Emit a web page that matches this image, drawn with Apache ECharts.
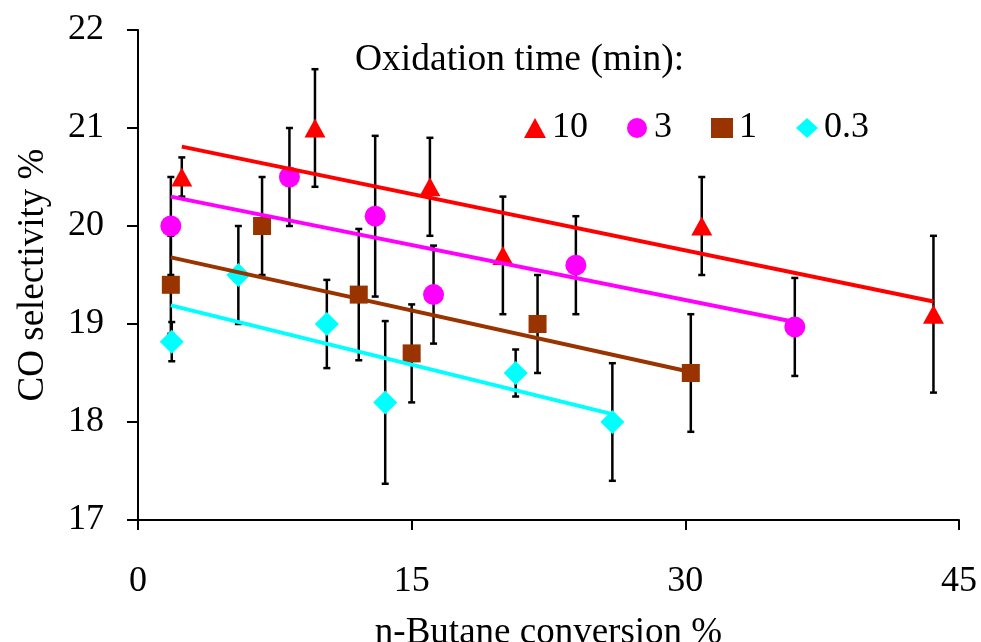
<!DOCTYPE html>
<html>
<head>
    <meta charset="utf-8">
    <title>CO selectivity</title>
    <script src="https://cdn.jsdelivr.net/npm/echarts@6/dist/echarts.min.js"></script>
    <style type="text/css">
        *{margin: 0;padding: 0;}
        body{background: #fff;}
    </style>
</head>
<body>
<div id="main" style="width: 981px;height: 642px;"></div>
<script type="text/javascript">
    // oxidation time 10 min
    var t10X = [2.4, 9.7, 16.0, 20.0, 30.9, 43.6];
    var t10Y = [20.5, 21.0, 20.4, 19.7, 20.0, 19.1];
    var t10Err = [0.2, 0.6, 0.5, 0.6, 0.5, 0.8];
    // 3 min
    var t3X = [1.8, 8.3, 13.0, 16.2, 24.0, 36.0];
    var t3Y = [20.0, 20.5, 20.1, 19.3, 19.6, 18.97];
    var t3Err = [0.5, 0.5, 0.82, 0.5, 0.5, 0.5];
    // 1 min
    var t1X = [1.8, 6.8, 12.1, 15.0, 21.9, 30.3];
    var t1Y = [19.4, 20.0, 19.3, 18.7, 19.0, 18.5];
    var t1Err = [0.5, 0.5, 0.67, 0.5, 0.5, 0.6];
    // 0.3 min
    var t03X = [1.85, 5.5, 10.35, 13.55, 20.7, 26.0];
    var t03Y = [18.82, 19.5, 19.0, 18.2, 18.5, 18.0];
    var t03Err = [0.2, 0.5, 0.45, 0.83, 0.24, 0.6];

    // trend lines (end points)
    var trend10 = [[2.4, 20.81], [43.6, 19.23]];
    var trend3 = [[1.8, 20.30], [36.0, 19.02]];
    var trend1 = [[1.8, 19.68], [30.3, 18.51]];
    var trend03 = [[1.8, 19.19], [26.0, 18.08]];

    var xTicks = [0, 15, 30, 45];
    var yTicks = [17, 18, 19, 20, 21, 22];
    var legendNames = ['10', '3', '1', '0.3'];

    var FONT = 'Liberation Serif';
    var myChart = echarts.init(document.getElementById('main'));

    function pts(xs, ys) {
        return xs.map(function (x, i) { return [x, ys[i]]; });
    }
    function errs(xs, ys, es) {
        return xs.map(function (x, i) { return [x, ys[i] - es[i], ys[i] + es[i]]; });
    }
    function renderErr(params, api) {
        var x = api.value(0);
        var top = api.coord([x, api.value(2)]);
        var bot = api.coord([x, api.value(1)]);
        var w = 3.5;
        var st = {stroke: '#000', lineWidth: 2.5};
        return {
            type: 'group',
            children: [
                {type: 'line', shape: {x1: top[0], y1: top[1], x2: bot[0], y2: bot[1]}, style: st},
                {type: 'line', shape: {x1: top[0] - w, y1: top[1], x2: top[0] + w, y2: top[1]}, style: st},
                {type: 'line', shape: {x1: bot[0] - w, y1: bot[1], x2: bot[0] + w, y2: bot[1]}, style: st}
            ]
        };
    }
    function errSeries(data) {
        return {
            type: 'custom',
            renderItem: renderErr,
            encode: {x: 0, y: [1, 2]},
            z: 2,
            silent: true,
            data: data
        };
    }
    function trendSeries(data, color) {
        return {
            type: 'line',
            data: data,
            showSymbol: false,
            symbol: 'none',
            z: 4,
            silent: true,
            lineStyle: {color: color, width: 4}
        };
    }
    function dotSeries(name, data, color, symbol, size) {
        return {
            name: name,
            type: 'scatter',
            data: data,
            symbol: symbol,
            symbolSize: size,
            z: 3,
            itemStyle: {color: color, opacity: 1}
        };
    }

    var axisStyle = {color: '#000', width: 2};

    var option = {
        animation: false,
        textStyle: {fontFamily: FONT},
        grid: {left: 138, right: 22, top: 30, bottom: 122, containLabel: false, outerBoundsMode: 'none'},
        legend: {
            left: 519,
            top: 105,
            itemWidth: 22,
            itemHeight: 20,
            itemGap: 39,
            textStyle: {fontFamily: FONT, fontSize: 36, color: '#000', padding: [0, 0, 0, 1]},
            data: [
                {name: '10', icon: 'triangle'},
                {name: '3', icon: 'circle'},
                {name: '1', icon: 'rect'},
                {name: '0.3', icon: 'diamond'}
            ]
        },
        graphic: [{
            type: 'text',
            left: 355,
            top: 41,
            style: {text: 'Oxidation time (min):', fontFamily: FONT, fontSize: 37.5, fill: '#000'}
        }],
        xAxis: {
            type: 'value',
            min: xTicks[0],
            max: xTicks[xTicks.length - 1],
            interval: 15,
            name: 'n-Butane conversion %',
            nameLocation: 'middle',
            nameGap: 95,
            nameTextStyle: {fontFamily: FONT, fontSize: 37, color: '#000'},
            axisLine: {lineStyle: axisStyle},
            axisTick: {length: 10, lineStyle: axisStyle},
            axisLabel: {margin: 44, fontFamily: FONT, fontSize: 36, color: '#000'},
            splitLine: {show: false}
        },
        yAxis: {
            type: 'value',
            min: yTicks[0],
            max: yTicks[yTicks.length - 1],
            interval: 1,
            name: 'CO selectivity %',
            nameLocation: 'middle',
            nameGap: 86,
            nameTextStyle: {fontFamily: FONT, fontSize: 37, color: '#000'},
            axisLine: {lineStyle: axisStyle},
            axisTick: {length: 11, lineStyle: axisStyle},
            axisLabel: {margin: 34, fontFamily: FONT, fontSize: 36, color: '#000'},
            splitLine: {show: false}
        },
        series: [
            errSeries(errs(t10X, t10Y, t10Err)),
            errSeries(errs(t3X, t3Y, t3Err)),
            errSeries(errs(t1X, t1Y, t1Err)),
            errSeries(errs(t03X, t03Y, t03Err)),
            dotSeries(legendNames[0], pts(t10X, t10Y), '#FF0000', 'triangle', [21, 19]),
            dotSeries(legendNames[1], pts(t3X, t3Y), '#FF00FF', 'circle', 21),
            dotSeries(legendNames[2], pts(t1X, t1Y), '#993300', 'rect', 18),
            dotSeries(legendNames[3], pts(t03X, t03Y), '#00FFFF', 'diamond', 24),
            trendSeries(trend10, '#FF0000'),
            trendSeries(trend3, '#FF00FF'),
            trendSeries(trend1, '#993300'),
            trendSeries(trend03, '#00FFFF')
        ]
    };

    myChart.setOption(option);
</script>
</body>
</html>
